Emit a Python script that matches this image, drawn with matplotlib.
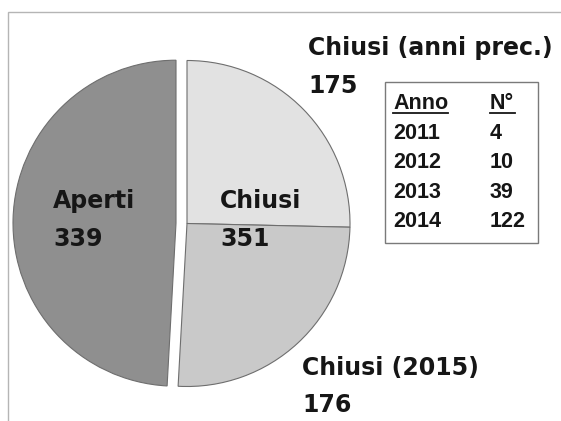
import matplotlib
matplotlib.use("Agg")
import matplotlib.pyplot as plt
from matplotlib.patches import Rectangle

# slices, clockwise from the top
slice_names = ["Chiusi (anni prec.)", "Chiusi (2015)", "Aperti"]
slice_values = [175, 176, 339]
slice_colors = ["#e2e2e2", "#c9c9c9", "#8f8f8f"]
slice_explode = [0, 0, 11]  # pixels, pie drawn in pixel units

# closed in previous years, by year
table_years = ["2011", "2012", "2013", "2014"]
table_counts = [4, 10, 39, 122]

W, H = 561, 421
fig = plt.figure(figsize=(W / 100, H / 100), dpi=100)
ax = fig.add_axes([0, 0, 1, 1])

def y(v):
    # image rows -> axes units
    return H - v

# outer frame
ax.add_patch(Rectangle((8, -20), 600, y(12) + 20, fill=False, edgecolor="#b5b5b5", lw=1))

ax.pie(slice_values, colors=slice_colors, explode=slice_explode, startangle=90,
       counterclock=False, center=(187, y(223.5)), radius=163, frame=True,
       wedgeprops=dict(edgecolor="#6e6e6e", linewidth=0.8))
ax.set_xlim(0, W)
ax.set_ylim(0, H)
ax.set_aspect("auto")
ax.axis("off")

lab = dict(fontsize=17, fontweight="bold", family="DejaVu Sans", color="#161616", va="baseline")
closed_total = slice_values[0] + slice_values[1]
ax.text(308, y(55), slice_names[0], **lab)
ax.text(308, y(93), str(slice_values[0]), **lab)
ax.text(302, y(375), slice_names[1], **lab)
ax.text(302, y(412), str(slice_values[1]), **lab)
ax.text(53, y(208), slice_names[2], **lab)
ax.text(53, y(246), str(slice_values[2]), **lab)
ax.text(220, y(208), "Chiusi", **lab)
ax.text(220, y(246), str(closed_total), **lab)

# small table
ax.add_patch(Rectangle((385, y(243)), 153, 161, facecolor="white", edgecolor="#7a7a7a", lw=1))
tab = dict(fontsize=15.5, fontweight="bold", family="Liberation Sans", color="#161616", va="baseline")
ax.text(393, y(109), "Anno", **tab)
ax.text(490, y(109), "N°", **tab)
ax.plot([393, 448], [y(113), y(113)], color="#161616", lw=1.3)
ax.plot([490, 515], [y(113), y(113)], color="#161616", lw=1.3)
for i, (yr, n) in enumerate(zip(table_years, table_counts)):
    base = 139 + i * 29.4
    ax.text(393, y(base), yr, **tab)
    ax.text(490, y(base), str(n), **tab)

fig.savefig("out.png", dpi=100, facecolor="white")
